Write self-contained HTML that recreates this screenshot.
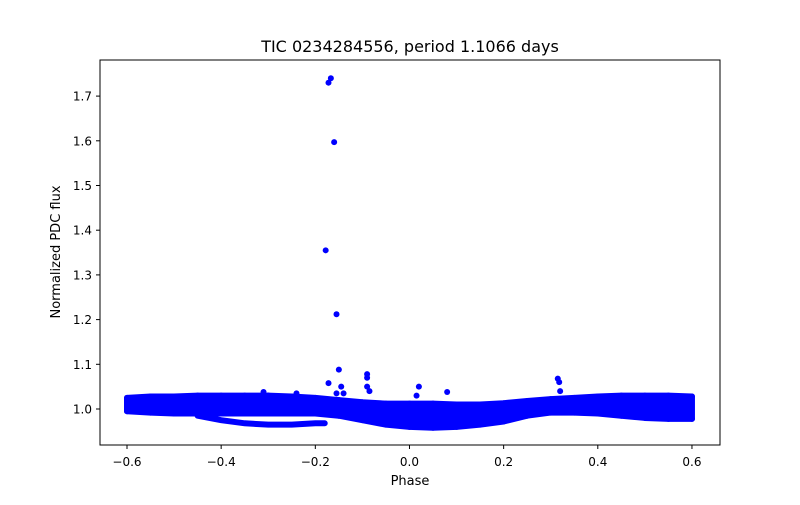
<!DOCTYPE html>
<html><head><meta charset="utf-8"><style>
body{margin:0;background:#fff;font-family:"Liberation Sans","DejaVu Sans",sans-serif}
svg text{font-family:"DejaVu Sans","Liberation Sans",sans-serif;fill:#000}
</style></head><body>
<svg id="c" width="800" height="500" xmlns="http://www.w3.org/2000/svg">
<rect width="800" height="500" fill="#fff"/>
<text x="410" y="52" font-size="16" text-anchor="middle">TIC 0234284556, period 1.1066 days</text>
<g id="data"></g>
<rect x="100" y="60" width="620" height="385" fill="none" stroke="#000" stroke-width="1"/>
<g id="axes"></g>
<text x="410" y="485" font-size="13" text-anchor="middle">Phase</text>
<text transform="translate(60,252) rotate(-90)" font-size="13" text-anchor="middle">Normalized PDC flux</text>
</svg>
<script>
const phases=[-0.6,-0.55,-0.5,-0.45,-0.4,-0.35,-0.3,-0.25,-0.2,-0.15,-0.1,-0.05,0,0.05,0.1,0.15,0.2,0.25,0.3,0.35,0.4,0.45,0.5,0.55,0.6];
const upperFlux=[1.025,1.028,1.028,1.03,1.03,1.03,1.03,1.028,1.025,1.02,1.015,1.012,1.012,1.012,1.01,1.01,1.013,1.018,1.022,1.025,1.028,1.03,1.03,1.03,1.028];
const lowerFlux=[0.995,0.992,0.99,0.99,0.99,0.99,0.99,0.99,0.99,0.985,0.975,0.965,0.96,0.958,0.96,0.965,0.972,0.985,0.992,0.992,0.99,0.985,0.98,0.978,0.978];
const trackPhase=[-0.45,-0.4,-0.35,-0.3,-0.25,-0.2,-0.18];
const trackFlux=[0.985,0.975,0.968,0.965,0.965,0.968,0.968];
const outPhase=[-0.178,-0.172,-0.167,-0.16,-0.155,-0.15,-0.172,-0.145,-0.14,-0.155,-0.09,-0.09,-0.09,-0.085,0.02,0.015,0.08,0.315,0.318,0.32,-0.24,-0.31,-0.3];
const outFlux=[1.355,1.73,1.74,1.597,1.212,1.088,1.058,1.05,1.035,1.035,1.078,1.07,1.05,1.04,1.05,1.03,1.038,1.068,1.06,1.04,1.035,1.038,1.03];
const xTicks=[-0.6,-0.4,-0.2,0.0,0.2,0.4,0.6];
const yTicks=[1.0,1.1,1.2,1.3,1.4,1.5,1.6,1.7];
const NS="http://www.w3.org/2000/svg";
const X=p=>127+(p+0.6)*470.8;
const Y=f=>409-(f-1)*447;
const dg=document.getElementById('data'), ax=document.getElementById('axes');
function mk(t,a,parent){const e=document.createElementNS(NS,t);for(const k in a)e.setAttribute(k,a[k]);parent.appendChild(e);return e;}
let pts=phases.map((p,i)=>X(p)+','+Y(upperFlux[i])).concat(phases.map((p,i)=>X(p)+','+Y(lowerFlux[i])).reverse());
const band=mk('polygon',{points:pts.join(' '),fill:'#0000ff',stroke:'#0000ff','stroke-width':6,'stroke-linejoin':'round'},dg);


const tr=mk('polyline',{points:trackPhase.map((p,i)=>X(p)+','+Y(trackFlux[i])).join(' '),fill:'none',stroke:'#0000ff','stroke-width':6,'stroke-linecap':'round'},dg);


phases.forEach((p,i)=>{[upperFlux[i],lowerFlux[i]].forEach(f=>{
const c=mk('circle',{cx:X(p),cy:Y(f),r:3,fill:'#0000ff'},dg);

});});
outPhase.forEach((p,i)=>{
const c=mk('circle',{cx:X(p),cy:Y(outFlux[i]),r:3,fill:'#0000ff'},dg);

});
xTicks.forEach(t=>{
const l=mk('line',{x1:X(t),x2:X(t),y1:445,y2:449,stroke:'#000'},ax);


const tx=mk('text',{x:X(t),y:466,'font-size':12,'text-anchor':'middle'},ax);
tx.textContent=(t<0?'\u2212':'')+Math.abs(t).toFixed(1);

});
yTicks.forEach(t=>{
const l=mk('line',{x1:96,x2:100,y1:Y(t),y2:Y(t),stroke:'#000'},ax);


const tx=mk('text',{x:92,y:Y(t)+4.5,'font-size':12,'text-anchor':'end'},ax);
tx.textContent=t.toFixed(1);

});
</script>
</body></html>
